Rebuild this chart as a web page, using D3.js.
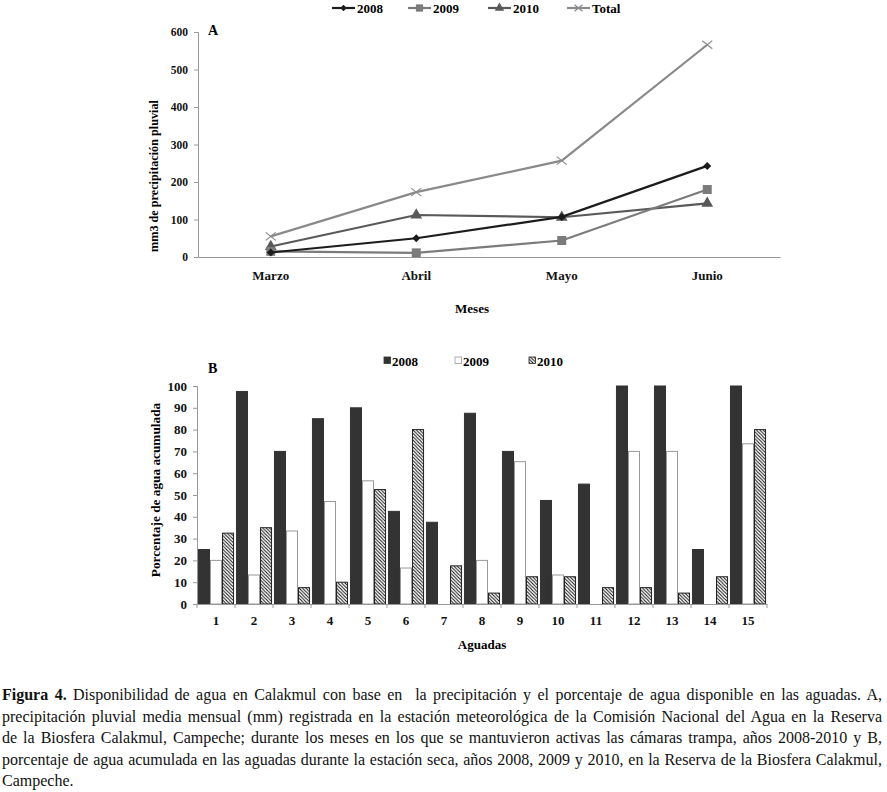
<!DOCTYPE html>
<html><head><meta charset="utf-8">
<script src="https://cdn.jsdelivr.net/npm/d3@7"></script>
<style>body{margin:0;background:#fff}svg{display:block}</style>
</head><body>
<svg id="c" width="887" height="792"></svg>
<script>
// ---- Data: chart A (monthly rainfall) ----
const months = ["Marzo", "Abril", "Mayo", "Junio"];
const rain2008 = [12, 50, 107, 243];
const rain2009 = [15, 11, 44, 180];
const rain2010 = [28, 112, 106, 143];
const rainTotal = [55, 173, 257, 566];
const yTicksA = [0, 100, 200, 300, 400, 500, 600];
const seriesA = ["2008", "2009", "2010", "Total"];

// ---- Data: chart B (water % in aguadas) ----
const aguadas = ["1","2","3","4","5","6","7","8","9","10","11","12","13","14","15"];
const pct2008 = [25, 97.5, 70, 85, 90, 42.5, 37.5, 87.5, 70, 47.5, 55, 100, 100, 25, 100];
const pct2009 = [20, 13.3, 33.5, 47, 56.5, 16.5, 0, 20, 65.3, 13.3, 0, 70, 70, 0, 73.5];
const pct2010 = [32.5, 35, 7.5, 10, 52.5, 80, 17.5, 5, 12.5, 12.5, 7.5, 7.5, 5, 12.5, 80];
const yTicksB = [0,10,20,30,40,50,60,70,80,90,100];
const seriesB = ["2008", "2009", "2010"];

const captionLines = [
  ["Figura 4.", " Disponibilidad de agua en Calakmul con base en  la precipitación y el porcentaje de agua disponible en las aguadas. A,"],
  ["", "precipitación pluvial media mensual (mm) registrada en la estación meteorológica de la Comisión Nacional del Agua en la Reserva"],
  ["", "de la Biosfera Calakmul, Campeche; durante los meses en los que se mantuvieron activas las cámaras trampa, años 2008-2010 y B,"],
  ["", "porcentaje de agua acumulada en las aguadas durante la estación seca, años 2008, 2009 y 2010, en la Reserva de la Biosfera Calakmul,"],
  ["", "Campeche."]
];

const svg = d3.select("#c");
const serif = "'Liberation Serif','Times New Roman',serif";

// hatch pattern
const defs = svg.append("defs");
const pat = defs.append("pattern").attr("id","hatch").attr("patternUnits","userSpaceOnUse")
  .attr("width",3.4).attr("height",3.4);
pat.append("rect").attr("width",3.4).attr("height",3.4).attr("fill","#fff");
pat.append("path").attr("d","M-1,-1 L4.4,4.4 M-1,2.4 L1,4.4 M2.4,-1 L4.4,1")
  .attr("stroke","#111").attr("stroke-width",1);

// ================= Chart A =================
const A = {left:198, right:780, top:32, bottom:257};
const xA = d3.scaleBand().domain(months).range([A.left, A.right]);
const yA = d3.scaleLinear().domain([0,600]).range([A.bottom, A.top]);
const gA = svg.append("g");

const yAxisA = d3.axisLeft(yA).tickValues(yTicksA).tickSize(4).tickPadding(6);
const yaG = gA.append("g").attr("transform",`translate(${A.left},0)`).call(yAxisA);
yaG.select(".domain").attr("stroke","#999");
yaG.selectAll(".tick line").attr("stroke","#999");
yaG.selectAll("text").attr("font-family",serif).attr("font-weight","bold").attr("font-size",11.5).attr("fill","#111");

const xAxisA = d3.axisBottom(xA).tickSize(0).tickPadding(14);
const xaG = gA.append("g").attr("transform",`translate(0,${A.bottom})`).call(xAxisA);
xaG.select(".domain").attr("stroke","#999").attr("stroke-width",1.2);
xaG.selectAll("text").attr("font-family",serif).attr("font-weight","bold").attr("font-size",13).attr("fill","#111");

const styleA = {
  "2008": {color:"#1c1c1c", vals:rain2008, marker:"diamond"},
  "2009": {color:"#7b7b7b", vals:rain2009, marker:"square"},
  "2010": {color:"#595959", vals:rain2010, marker:"triangle"},
  "Total": {color:"#8a8a8a", vals:rainTotal, marker:"x"}
};
function drawMarker(g, type, x, y, color, s) {
  s = s || 1;
  if (type === "diamond") g.append("path").attr("d",`M${x},${y-4*s}L${x+4*s},${y}L${x},${y+4*s}L${x-4*s},${y}Z`).attr("fill",color);
  else if (type === "square") g.append("rect").attr("x",x-4.5*s).attr("y",y-4.5*s).attr("width",9*s).attr("height",9*s).attr("fill",color);
  else if (type === "triangle") g.append("path").attr("d", d3.symbol(d3.symbolTriangle, 60*s*s)()).attr("transform",`translate(${x},${y})`).attr("fill",color);
  else if (type === "x") g.append("path").attr("d",`M${x-5*s},${y-4*s}L${x+5*s},${y+4*s}M${x-5*s},${y+4*s}L${x+5*s},${y-4*s}`).attr("stroke",color).attr("stroke-width",1.2);
}
const lineA = d3.line().x((d,i)=>xA(months[i])+xA.bandwidth()/2).y(d=>yA(d));
["Total","2010","2009","2008"].forEach(k => {
  const st = styleA[k];
  gA.append("path").datum(st.vals).attr("d",lineA).attr("fill","none").attr("stroke",st.color).attr("stroke-width",2.2);
  st.vals.forEach((v,i)=> drawMarker(gA, st.marker, xA(months[i])+xA.bandwidth()/2, yA(v), st.color));
});

gA.append("text").attr("x",208).attr("y",35).text("A").attr("font-family",serif).attr("font-weight","bold").attr("font-size",14);
gA.append("text").attr("x",472).attr("y",313).attr("text-anchor","middle").text("Meses").attr("font-family",serif).attr("font-weight","bold").attr("font-size",13);
gA.append("text").attr("transform","translate(158,176) rotate(-90)").attr("text-anchor","middle")
  .text("mm3 de precipitación pluvial").attr("font-family",serif).attr("font-weight","bold").attr("font-size",12.2);

// legend A
const legA = [{k:"2008",x:332},{k:"2009",x:408},{k:"2010",x:488},{k:"Total",x:567}];
legA.forEach(l => {
  const st = styleA[l.k];
  svg.append("line").attr("x1",l.x).attr("x2",l.x+23).attr("y1",8).attr("y2",8).attr("stroke",st.color).attr("stroke-width",2.2);
  drawMarker(svg, st.marker, l.x+11.5, 8, st.color, 0.8);
  svg.append("text").attr("x",l.x+25).attr("y",12.5).text(l.k).attr("font-family",serif).attr("font-weight","bold").attr("font-size",13);
});

// ================= Chart B =================
const B = {left:197, right:767, top:386, bottom:604};
const xB = d3.scaleBand().domain(aguadas).range([B.left, B.right]);
const xSub = d3.scaleBand().domain(seriesB).range([0, xB.bandwidth()]).paddingOuter(0.08);
const yB = d3.scaleLinear().domain([0,100]).range([B.bottom, B.top]);
const gB = svg.append("g");

const yAxisB = d3.axisLeft(yB).tickValues(yTicksB).tickSize(4).tickPadding(6);
const ybG = gB.append("g").attr("transform",`translate(${B.left},0)`).call(yAxisB);
ybG.select(".domain").attr("stroke","#999");
ybG.selectAll(".tick line").attr("stroke","#999");
ybG.selectAll("text").attr("font-family",serif).attr("font-weight","bold").attr("font-size",13).attr("fill","#111");

const stylesB = {
  "2008": {vals:pct2008, fill:"#333", stroke:"#333"},
  "2009": {vals:pct2009, fill:"#fff", stroke:"#999"},
  "2010": {vals:pct2010, fill:"url(#hatch)", stroke:"#222"}
};
seriesB.forEach(k => {
  const st = stylesB[k];
  gB.append("g").selectAll("rect").data(st.vals).join("rect")
    .attr("x",(d,i)=>xB(aguadas[i])+xSub(k)+0.5)
    .attr("width",xSub.bandwidth()-1)
    .attr("y",d=>yB(d))
    .attr("height",d=>B.bottom-yB(d))
    .attr("fill",st.fill).attr("stroke",d=>d>0?st.stroke:"none").attr("stroke-width",1);
});

const xAxisB = d3.axisBottom(xB).tickSize(0).tickPadding(12);
const xbG = gB.append("g").attr("transform",`translate(0,${B.bottom})`).call(xAxisB);
xbG.select(".domain").attr("stroke","#999");
xbG.selectAll("text").attr("font-family",serif).attr("font-weight","bold").attr("font-size",13).attr("fill","#111");
// category boundary ticks
gB.append("g").selectAll("line").data(aguadas.concat(["end"])).join("line")
  .attr("x1",(d,i)=>B.left+i*xB.step()).attr("x2",(d,i)=>B.left+i*xB.step())
  .attr("y1",B.bottom).attr("y2",B.bottom+4).attr("stroke","#999");

gB.append("text").attr("x",208).attr("y",373).text("B").attr("font-family",serif).attr("font-weight","bold").attr("font-size",14);
gB.append("text").attr("x",482).attr("y",649).attr("text-anchor","middle").text("Aguadas").attr("font-family",serif).attr("font-weight","bold").attr("font-size",13);
gB.append("text").attr("transform","translate(160,490) rotate(-90)").attr("text-anchor","middle")
  .text("Porcentaje de agua acumulada").attr("font-family",serif).attr("font-weight","bold").attr("font-size",13.3);

// legend B
const legB = [{k:"2008",x:384},{k:"2009",x:455},{k:"2010",x:529}];
legB.forEach(l => {
  const st = stylesB[l.k];
  svg.append("rect").attr("x",l.x).attr("y",357).attr("width",6.5).attr("height",6.5).attr("fill",st.fill).attr("stroke",st.stroke).attr("stroke-width",0.8);
  svg.append("text").attr("x",l.x+8).attr("y",366).text(l.k).attr("font-family",serif).attr("font-weight","bold").attr("font-size",13);
});

// ================= Caption =================
const capX = 2, capW = 880, capY0 = 700, capDy = 21.5;
captionLines.forEach((ln, i) => {
  const t = svg.append("text").attr("x",capX).attr("y",capY0+i*capDy)
    .attr("font-family",serif).attr("font-size",16).attr("fill","#111").attr("xml:space","preserve").style("white-space","pre");
  if (ln[0]) t.append("tspan").attr("font-weight","bold").text(ln[0]);
  t.append("tspan").text(ln[1]);
  if (i < captionLines.length - 1) {
    const natural = t.node().getComputedTextLength();
    const spaces = (ln[0] + ln[1]).split(" ").length - 1;
    t.attr("word-spacing", (capW - natural) / spaces);
  }
});
</script>
</body></html>
